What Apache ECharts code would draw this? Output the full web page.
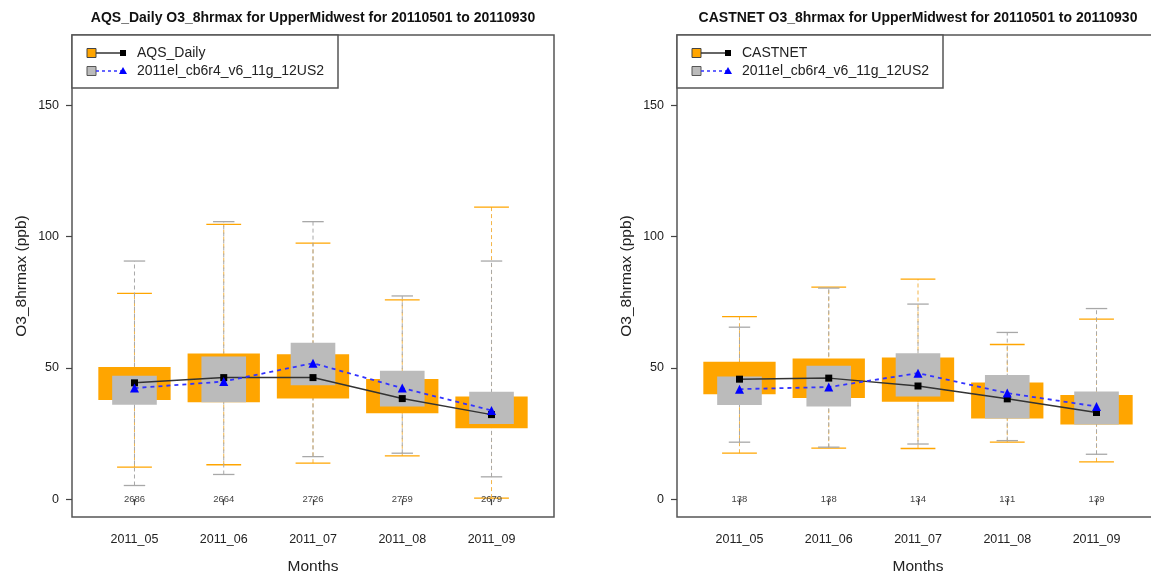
<!DOCTYPE html>
<html>
<head>
<meta charset="utf-8">
<script src="https://cdn.jsdelivr.net/npm/echarts@6/dist/echarts.min.js"></script>
<style>html,body{margin:0;padding:0;background:#fff}#c{width:1151px;height:577px}</style>
</head>
<body>
<div id="c"></div>
<script>
// ---- data ----
var months = ['2011_05', '2011_06', '2011_07', '2011_08', '2011_09'];
var yTicks = [0, 50, 100, 150];

// box stats: [lower whisker, Q1, Q3, upper whisker]
var aqsObsBox = [[12.2, 37.8, 50.3, 78.4], [13.1, 36.9, 55.5, 104.7], [13.7, 38.3, 55.2, 97.5], [16.5, 32.7, 45.8, 75.9], [0.4, 27.0, 39.1, 111.2]];
var aqsModBox = [[5.2, 36.0, 47.0, 90.7], [9.4, 36.9, 54.3, 105.7], [16.2, 43.4, 59.6, 105.7], [17.5, 35.3, 48.9, 77.4], [8.5, 28.6, 40.9, 90.7]];
var aqsObsLine = [44.3, 46.3, 46.3, 38.3, 32.2];
var aqsModLine = [42.3, 44.8, 51.8, 42.3, 33.8];
var aqsCounts = [2686, 2664, 2726, 2759, 2679];

var casObsBox = [[17.5, 40.0, 52.3, 69.5], [19.4, 38.5, 53.6, 80.8], [19.3, 37.1, 54.0, 83.8], [21.7, 30.7, 44.4, 58.9], [14.2, 28.4, 39.7, 68.6]];
var casModBox = [[21.7, 35.9, 46.7, 65.5], [19.8, 35.3, 50.8, 80.4], [21.0, 39.1, 55.6, 74.3], [22.3, 30.7, 47.3, 63.5], [17.1, 28.4, 41.0, 72.6]];
var casObsLine = [45.7, 46.1, 43.1, 38.2, 33.0];
var casModLine = [41.9, 42.7, 48.0, 40.4, 35.3];
var casCounts = [138, 138, 134, 131, 139];

var panels = [
  {title: 'AQS_Daily O3_8hrmax for UpperMidwest for 20110501 to 20110930', obsName: 'AQS_Daily',
   obsBox: aqsObsBox, modBox: aqsModBox, obsLine: aqsObsLine, modLine: aqsModLine, counts: aqsCounts},
  {title: 'CASTNET O3_8hrmax for UpperMidwest for 20110501 to 20110930', obsName: 'CASTNET',
   obsBox: casObsBox, modBox: casModBox, obsLine: casObsLine, modLine: casModLine, counts: casCounts}
];
var modName = '2011el_cb6r4_v6_11g_12US2';

// ---- styles ----
var ORANGE = '#FFA500', GRAY = '#BBBBBB', FRAME = '#555555';
var FONT = '"Liberation Sans", Arial, Helvetica, sans-serif';
var gridLefts = [72, 677];
var GTOP = 35, GSIZE = 482;

var chart = echarts.init(document.getElementById('c'));

function boxData(arr) { return arr.map(function (d, i) { return [i + 1, d[0], d[1], d[2], d[3]]; }); }

function whiskerSeries(arr, color, capW, idx, dashColor) {
  return {
    type: 'custom', xAxisIndex: idx, yAxisIndex: idx, data: boxData(arr), silent: true,
    encode: {x: 0, y: [1, 2, 3, 4]},
    renderItem: function (params, api) {
      var x = api.value(0);
      var lo = api.coord([x, api.value(1)]);
      var hi = api.coord([x, api.value(4)]);
      var cw = api.size([capW, 0])[0] / 2;
      return {type: 'group', children: [
        {type: 'line', shape: {x1: lo[0], y1: lo[1], x2: hi[0], y2: hi[1]}, style: {stroke: dashColor, lineWidth: 1, lineDash: [4, 3]}},
        {type: 'line', shape: {x1: lo[0] - cw, y1: lo[1], x2: lo[0] + cw, y2: lo[1]}, style: {stroke: color, lineWidth: 1.3}},
        {type: 'line', shape: {x1: hi[0] - cw, y1: hi[1], x2: hi[0] + cw, y2: hi[1]}, style: {stroke: color, lineWidth: 1.3}}
      ]};
    }
  };
}

function boxSeries(arr, color, w, idx) {
  return {
    type: 'custom', xAxisIndex: idx, yAxisIndex: idx, data: boxData(arr), silent: true,
    encode: {x: 0, y: [1, 2, 3, 4]},
    renderItem: function (params, api) {
      var x = api.value(0);
      var q1 = api.coord([x, api.value(2)]);
      var q3 = api.coord([x, api.value(3)]);
      var bw = api.size([w, 0])[0];
      return {type: 'rect', shape: {x: q1[0] - bw / 2, y: q3[1], width: bw, height: q1[1] - q3[1]}, style: {fill: color}};
    }
  };
}

function countSeries(arr, idx) {
  return {
    type: 'custom', xAxisIndex: idx, yAxisIndex: idx, silent: true,
    data: arr.map(function (c, i) { return [i + 1, 0, c]; }),
    encode: {x: 0, y: 1},
    renderItem: function (params, api) {
      var p = api.coord([api.value(0), api.value(1)]);
      return {type: 'text', x: p[0], y: p[1], style: {text: String(api.value(2)), align: 'center', verticalAlign: 'middle', fontSize: 9.5, fontFamily: FONT, fill: '#444'}};
    }
  };
}

var grids = [], xAxes = [], yAxes = [], series = [], graphics = [];
panels.forEach(function (p, idx) {
  var L = gridLefts[idx];
  grids.push({left: L, top: GTOP, width: GSIZE, height: GSIZE, show: true, borderColor: FRAME, borderWidth: 1.5, backgroundColor: 'transparent', containLabel: false, outerBoundsMode: 'none'});
  xAxes.push({
    type: 'value', gridIndex: idx, min: 0.3, max: 5.7,
    axisLine: {show: false}, splitLine: {show: false},
    axisTick: {show: true, length: 6, customValues: [1, 2, 3, 4, 5], lineStyle: {color: '#444', width: 1.2}},
    axisLabel: {customValues: [1, 2, 3, 4, 5], formatter: function (v) { return months[Math.round(v) - 1]; }, fontSize: 12.5, fontFamily: FONT, color: '#222', margin: 16},
    name: 'Months', nameLocation: 'middle', nameGap: 42, nameTextStyle: {fontSize: 15.5, fontFamily: FONT, color: '#222'}
  });
  yAxes.push({
    type: 'value', gridIndex: idx, min: -6.8, max: 176.8,
    axisLine: {show: false}, splitLine: {show: false},
    axisTick: {show: true, length: 6, customValues: yTicks, lineStyle: {color: '#444', width: 1.2}},
    axisLabel: {customValues: yTicks, fontSize: 12.5, fontFamily: FONT, color: '#222', margin: 13},
    name: 'O3_8hrmax (ppb)', nameLocation: 'middle', nameGap: 42, nameTextStyle: {fontSize: 15.5, fontFamily: FONT, color: '#222'}
  });
  series.push(whiskerSeries(p.obsBox, ORANGE, 0.39, idx, '#F3B54A'));
  series.push(whiskerSeries(p.modBox, '#A8A8A8', 0.24, idx, '#A8A8A8'));
  series.push(boxSeries(p.obsBox, ORANGE, 0.81, idx));
  series.push(boxSeries(p.modBox, GRAY, 0.50, idx));
  series.push({
    type: 'line', xAxisIndex: idx, yAxisIndex: idx, silent: true,
    data: p.obsLine.map(function (v, i) { return [i + 1, v]; }),
    symbol: 'rect', symbolSize: 7, itemStyle: {color: '#000'},
    lineStyle: {color: '#333', width: 1.5}
  });
  series.push({
    type: 'line', xAxisIndex: idx, yAxisIndex: idx, silent: true,
    data: p.modLine.map(function (v, i) { return [i + 1, v]; }),
    symbol: 'triangle', symbolSize: 9, itemStyle: {color: '#0000FF'},
    lineStyle: {color: '#3333FF', width: 1.8, type: [4, 4]}
  });
  series.push(countSeries(p.counts, idx));

  // title
  graphics.push({type: 'text', x: L + GSIZE / 2, y: 18, style: {text: p.title, align: 'center', verticalAlign: 'middle', font: 'bold 14px ' + FONT, fill: '#111'}});
  // legend
  graphics.push({type: 'rect', shape: {x: L, y: GTOP, width: 266, height: 53}, style: {fill: '#fff', stroke: FRAME, lineWidth: 1.5}, z: 10});
  var r1 = 53, r2 = 71;
  graphics.push({type: 'rect', shape: {x: L + 15, y: r1 - 4.5, width: 9, height: 9}, style: {fill: ORANGE, stroke: '#444', lineWidth: 1}, z: 11});
  graphics.push({type: 'line', shape: {x1: L + 24, y1: r1, x2: L + 51, y2: r1}, style: {stroke: '#333', lineWidth: 1.5}, z: 11});
  graphics.push({type: 'rect', shape: {x: L + 48, y: r1 - 3, width: 6, height: 6}, style: {fill: '#000'}, z: 11});
  graphics.push({type: 'text', x: L + 65, y: r1, style: {text: p.obsName, verticalAlign: 'middle', font: '14px ' + FONT, fill: '#222'}, z: 11});
  graphics.push({type: 'rect', shape: {x: L + 15, y: r2 - 4.5, width: 9, height: 9}, style: {fill: GRAY, stroke: '#555', lineWidth: 1}, z: 11});
  graphics.push({type: 'line', shape: {x1: L + 24, y1: r2, x2: L + 50, y2: r2}, style: {stroke: '#3333FF', lineWidth: 1.5, lineDash: [3, 3]}, z: 11});
  graphics.push({type: 'polygon', shape: {points: [[L + 51, r2 - 4], [L + 55, r2 + 3], [L + 47, r2 + 3]]}, style: {fill: '#0000FF'}, z: 11});
  graphics.push({type: 'text', x: L + 65, y: r2, style: {text: modName, verticalAlign: 'middle', font: '14px ' + FONT, fill: '#222'}, z: 11});
});

chart.setOption({
  animation: false,
  backgroundColor: '#fff',
  grid: grids,
  xAxis: xAxes,
  yAxis: yAxes,
  series: series,
  graphic: {elements: graphics}
});
</script>
</body>
</html>
